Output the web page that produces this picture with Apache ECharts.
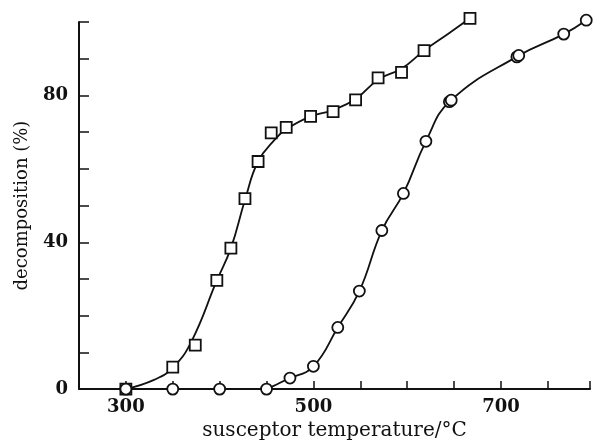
<!DOCTYPE html>
<html>
<head>
<meta charset="utf-8">
<script src="https://cdn.jsdelivr.net/npm/echarts@6/dist/echarts.min.js"></script>
<style>html,body{margin:0;padding:0;background:#fff}#c{width:593px;height:446px}</style>
</head>
<body>
<div id="c"></div>
<script>
// Marker data
const squareTemp   = [300, 350, 374, 397, 412, 427, 441, 455, 471, 497, 521, 545, 569, 594, 618, 667];
const squareDecomp = [0, 6, 12, 29.6, 38.4, 51.9, 62, 69.8, 71.3, 74.3, 75.6, 78.8, 84.8, 86.3, 92.2, 101];
const circleTemp   = [300, 350, 400, 450, 475, 500, 526, 549, 573, 596, 620, 645, 647, 717, 719, 767, 791];
const circleDecomp = [0, 0, 0, 0, 3, 6.2, 16.8, 26.7, 43.2, 53.3, 67.5, 78.3, 78.7, 90.5, 90.9, 96.7, 100.5];
// Fitted curves
const squareCurveTemp   = [300, 330, 350, 370, 397, 412, 427, 441, 460, 471, 497, 521, 545, 569, 594, 618, 645, 667];
const squareCurveDecomp = [0, 2.5, 5.8, 13, 29.6, 38.4, 51.5, 62, 68.3, 70.8, 74.3, 76, 79, 84.3, 87.3, 92.2, 97, 101];
const circleCurveTemp   = [300, 440, 475, 500, 526, 549, 573, 596, 620, 646, 718, 767, 791];
const circleCurveDecomp = [0, 0, 3, 6.2, 16.8, 26.7, 43.2, 53.3, 67.5, 78.5, 90.7, 96.7, 100.5];
// Tick labels
const xTickLabels = [300, 500, 700];
const yTickLabels = [0, 40, 80];

const zip = (a, b) => a.map((v, i) => [v, b[i]]);
const serif = 'DejaVu Serif';
const chart = echarts.init(document.getElementById('c'), null, {renderer: 'canvas'});
chart.setOption({
  backgroundColor: '#fff',
  animation: false,
  grid: {left: 79, right: 0, top: 22, bottom: 55},
  xAxis: {
    type: 'value', min: 250, max: 795, interval: 50,
    name: 'susceptor temperature/°C', nameLocation: 'middle', nameGap: 28,
    nameTextStyle: {fontFamily: serif, fontSize: 20, color: '#111'},
    axisLine: {show: true, lineStyle: {color: '#111', width: 2}},
    axisTick: {show: true, inside: true, length: 8, lineStyle: {color: '#111', width: 1.5}},
    axisLabel: {
      fontFamily: serif, fontWeight: 'bold', fontSize: 18, color: '#111', margin: 9,
      formatter: v => xTickLabels.includes(v) ? String(v) : ''
    },
    splitLine: {show: false}
  },
  yAxis: {
    type: 'value', min: 0, max: 100, interval: 10,
    name: 'decomposition (%)', nameLocation: 'middle', nameGap: 48,
    nameTextStyle: {fontFamily: serif, fontSize: 18, color: '#111'},
    axisLine: {show: true, lineStyle: {color: '#111', width: 2}},
    axisTick: {show: true, inside: true, length: 10, lineStyle: {color: '#111', width: 1.5}},
    axisLabel: {
      fontFamily: serif, fontWeight: 'bold', fontSize: 18, color: '#111', margin: 11,
      formatter: v => yTickLabels.includes(v) ? String(v) : ''
    },
    splitLine: {show: false}
  },
  series: [
    {type: 'line', data: zip(squareCurveTemp, squareCurveDecomp), smooth: 0.45,
     showSymbol: false, clip: false, lineStyle: {color: '#111', width: 1.8}, z: 2},
    {type: 'line', data: zip(circleCurveTemp, circleCurveDecomp), smooth: 0.45,
     showSymbol: false, clip: false, lineStyle: {color: '#111', width: 1.8}, z: 2},
    {type: 'scatter', data: zip(squareTemp, squareDecomp), symbol: 'rect', symbolSize: 11, clip: false,
     itemStyle: {color: '#fff', borderColor: '#111', borderWidth: 1.8, opacity: 1}, z: 3},
    {type: 'scatter', data: zip(circleTemp, circleDecomp), symbol: 'circle', symbolSize: 11, clip: false,
     itemStyle: {color: '#fff', borderColor: '#111', borderWidth: 1.8, opacity: 1}, z: 3}
  ]
});
</script>
</body>
</html>
